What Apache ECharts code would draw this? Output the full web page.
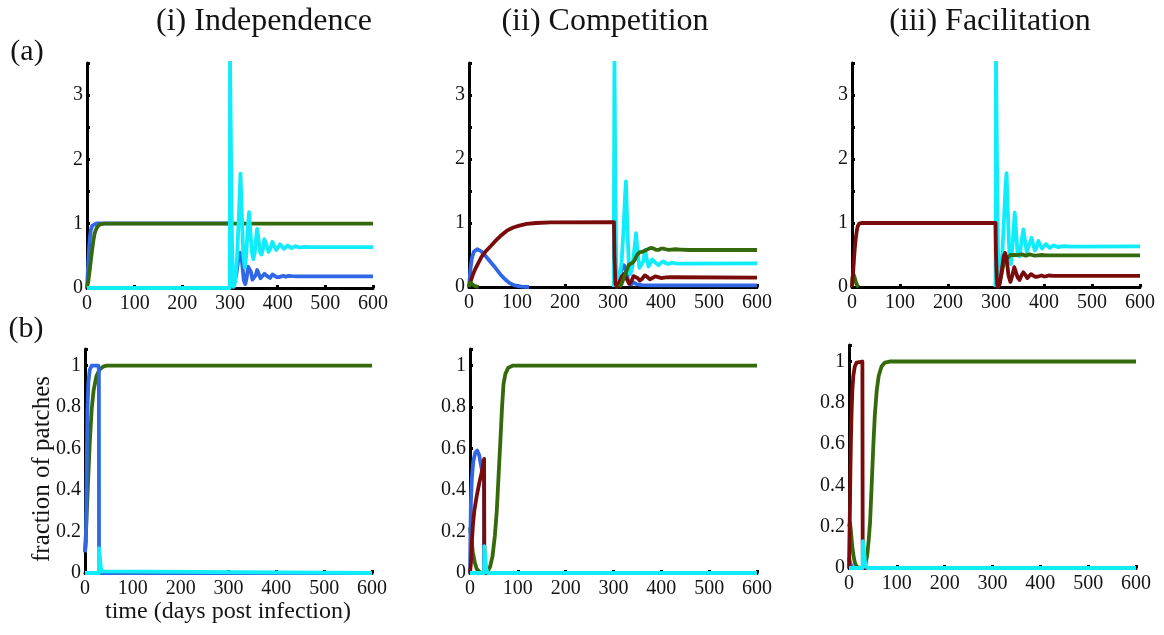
<!DOCTYPE html>
<html>
<head>
<meta charset="utf-8">
<script src="https://cdn.jsdelivr.net/npm/echarts@6/dist/echarts.min.js"></script>
<style>
html,body{margin:0;padding:0;background:#fff;}
#c{width:1164px;height:635px;}
</style>
</head>
<body>
<div id="c"></div>
<script>
// ---------- labels ----------
const colTitles = ['(i) Independence', '(ii) Competition', '(iii) Facilitation'];
const rowLabels = ['(a)', '(b)'];
const xName = 'time (days post infection)';
const yName = 'fraction of patches';

// ---------- data: [time, value] ----------
// Row (a), column (i) Independence
const a1Blue = [[0,0],[2,0.3],[4,0.58],[6,0.78],[8,0.9],[11,0.97],[14,1.0],[20,1.005],[300,1.005],[301,0.5],[303,0.15],[306,0.02],[309,0.03],[313,0.2],[317,0.42],[321,0.55],[325,0.42],[329,0.12],[332,0.06],[335,0.16],[338,0.33],[341,0.34],[344,0.25],[347,0.13],[350,0.11],[354,0.2],[357,0.28],[360,0.25],[364,0.15],[368,0.14],[372,0.22],[375,0.24],[379,0.18],[384,0.155],[389,0.21],[393,0.21],[398,0.17],[403,0.17],[407,0.2],[412,0.19],[417,0.175],[423,0.19],[430,0.185],[440,0.18],[600,0.18]];
const a1Green = [[0,0],[3,0.12],[6,0.3],[10,0.55],[13,0.72],[16,0.85],[20,0.93],[25,0.98],[30,0.995],[36,1.0],[600,1.0]];
const a1Cyan = [[0,0],[299.5,0],[300,3.6],[302,2.2],[304,0.8],[306,0.1],[308,0.02],[311,0.1],[315,0.5],[319,1.2],[322,1.78],[325,1.1],[328,0.5],[331,0.32],[334,0.5],[337,0.9],[340,1.18],[343,0.85],[346,0.55],[349,0.45],[352,0.55],[355,0.8],[357,0.92],[360,0.75],[363,0.56],[366,0.52],[369,0.6],[372,0.76],[374,0.78],[377,0.66],[381,0.56],[385,0.62],[389,0.72],[393,0.65],[397,0.59],[401,0.62],[405,0.68],[409,0.645],[413,0.61],[417,0.625],[421,0.66],[425,0.64],[429,0.62],[433,0.63],[437,0.65],[442,0.64],[447,0.63],[455,0.64],[465,0.635],[600,0.635]];

// Row (a), column (ii) Competition
const a2Blue = [[0,0],[3,0.28],[6,0.45],[10,0.55],[17,0.59],[25,0.56],[35,0.48],[44,0.4],[55,0.3],[65,0.2],[75,0.12],[85,0.06],[95,0.025],[110,0.005],[125,0],[130,null],[304,null],[305,0],[312,0.1],[318,0.28],[323,0.34],[328,0.22],[333,0.06],[338,0.04],[343,0.07],[350,0.04],[360,0.03],[380,0.025],[600,0.025]];
const a2Red = [[0,0],[4,0.1],[8,0.19],[13,0.28],[19,0.37],[26,0.47],[34,0.55],[44,0.63],[55,0.72],[66,0.8],[79,0.88],[92,0.93],[105,0.96],[120,0.985],[140,1.0],[170,1.01],[302,1.015],[303,0.5],[305,0.05],[308,0],[312,0.05],[318,0.16],[324,0.21],[329,0.12],[334,0.05],[339,0.1],[343,0.17],[347,0.19],[351,0.14],[356,0.1],[361,0.13],[366,0.18],[371,0.16],[377,0.12],[382,0.14],[388,0.165],[394,0.155],[400,0.14],[410,0.15],[420,0.152],[600,0.148]];
const a2Cyan = [[301.5,0],[303,3.6],[305,1.5],[307,0.3],[309,0.05],[313,0.1],[318,0.4],[322,0.9],[325,1.4],[327,1.65],[330,0.9],[333,0.35],[336,0.2],[340,0.3],[344,0.55],[348,0.84],[351,0.55],[355,0.3],[359,0.3],[363,0.4],[367,0.58],[370,0.45],[374,0.32],[378,0.33],[382,0.43],[386,0.45],[390,0.37],[395,0.34],[400,0.38],[405,0.4],[410,0.37],[416,0.36],[422,0.38],[430,0.37],[440,0.365],[600,0.37]];
const a2Green = [[0,0],[2,0.07],[5,0.06],[9,0.03],[14,0.01],[20,0],[25,null],[312,null],[313,0],[318,0.05],[323,0.15],[328,0.25],[333,0.35],[337,0.38],[341,0.38],[345,0.42],[350,0.5],[355,0.54],[360,0.55],[365,0.56],[370,0.58],[375,0.6],[380,0.61],[385,0.6],[390,0.58],[395,0.58],[400,0.6],[405,0.6],[410,0.59],[416,0.58],[422,0.585],[430,0.59],[440,0.585],[460,0.578],[600,0.578]];

// Row (a), column (iii) Facilitation
const a3Red = [[0,0],[2,0.2],[4,0.42],[6,0.62],[8,0.77],[10,0.88],[12,0.95],[15,0.99],[20,1.0],[299,1.0],[300,0.5],[302,0.05],[304,0],[308,0.05],[312,0.25],[316,0.48],[319,0.53],[322,0.45],[326,0.18],[330,0.08],[334,0.18],[338,0.31],[341,0.28],[345,0.15],[349,0.11],[353,0.18],[357,0.23],[361,0.19],[365,0.14],[369,0.15],[373,0.2],[377,0.19],[381,0.16],[386,0.16],[390,0.19],[395,0.18],[400,0.165],[405,0.17],[410,0.18],[420,0.175],[430,0.175],[600,0.175]];
const a3Green = [[0,0],[1,0.15],[3,0.2],[5,0.16],[8,0.08],[11,0.02],[14,0],[16,null],[302,null],[303,0],[306,0.02],[310,0.15],[314,0.3],[318,0.4],[322,0.44],[326,0.46],[330,0.5],[334,0.52],[338,0.5],[342,0.49],[346,0.5],[350,0.52],[354,0.51],[358,0.49],[362,0.49],[366,0.5],[370,0.51],[375,0.5],[380,0.49],[388,0.495],[395,0.5],[405,0.495],[600,0.495]];
const a3Cyan = [[299,0],[300,3.6],[302,2.0],[304,0.6],[306,0.2],[309,0.15],[313,0.5],[317,1.1],[320,1.6],[322,1.78],[325,1.1],[328,0.5],[331,0.36],[335,0.7],[339,1.16],[342,0.85],[345,0.52],[349,0.48],[353,0.7],[357,0.9],[360,0.75],[364,0.55],[368,0.56],[372,0.72],[374,0.77],[377,0.68],[381,0.57],[385,0.62],[388,0.72],[392,0.66],[396,0.6],[400,0.62],[404,0.67],[408,0.645],[412,0.61],[416,0.625],[420,0.65],[425,0.635],[430,0.62],[436,0.635],[445,0.64],[455,0.63],[600,0.635]];

// Row (b), column (i)
const b1Blue = [[0,0.1],[2,0.15],[3,0.35],[4,0.6],[5,0.78],[7,0.92],[10,0.98],[14,1.0],[28,1.0],[29,0.98],[29.3,0.12],[30,0],[600,0]];
const b1Green = [[0,0.1],[3,0.25],[5,0.36],[7,0.47],[10,0.63],[14,0.79],[18,0.88],[24,0.95],[30,0.98],[38,0.995],[45,1.0],[600,1.0]];
const b1Cyan = [[0,0],[29,0],[29.3,0.12],[31,0.08],[33,0.03],[35,0.008],[38,0],[600,0]];

// Row (b), column (ii)
const b2Green = [[0,0.22],[3,0.16],[6,0.1],[10,0.05],[14,0.02],[20,0.005],[28,0],[36,0.005],[42,0.03],[47,0.08],[52,0.18],[56,0.3],[60,0.48],[64,0.66],[67,0.8],[70,0.91],[74,0.96],[80,0.99],[90,1.0],[600,1.0]];
const b2Blue = [[0,0],[1,0.2],[2,0.35],[4,0.46],[7,0.54],[11,0.58],[15,0.59],[19,0.57],[23,0.52],[27,0.47],[29.5,0.44],[29.8,0],[600,0]];
const b2Red = [[0,0],[2,0.05],[4,0.15],[6,0.23],[9,0.3],[14,0.37],[19,0.43],[24,0.48],[28,0.53],[29.5,0.55],[29.8,0.14],[31,0],[600,0]];
const b2Cyan = [[0,0],[29.8,0],[30,0.13],[32,0.07],[34,0.02],[37,0],[600,0]];

// Row (b), column (iii)
const b3Blue = [[0,0.05],[2,0.03],[5,0.01],[8,0],[600,0]];
const b3Green = [[0,0.2],[2,0.22],[4,0.18],[7,0.1],[10,0.05],[13,0.02],[17,0.005],[25,0],[30,0.003],[34,0.015],[38,0.06],[41,0.13],[44,0.22],[47,0.38],[51,0.6],[54,0.74],[58,0.86],[62,0.93],[68,0.976],[75,0.995],[85,1.0],[600,1.0]];
const b3Red = [[0,0],[1,0.15],[2,0.3],[3,0.48],[4,0.62],[5.5,0.76],[7,0.86],[9,0.93],[12,0.975],[16,0.995],[20,1.0],[28,1.0],[28.6,0.13],[29,0],[600,0]];
const b3Cyan = [[0,0],[28.6,0],[29,0.13],[31,0.09],[33,0.04],[35,0.01],[38,0],[600,0]];

// ---------- styling ----------
const C = {cyan:'#10ecfa', blue:'#2f67e6', green:'#356a0c', red:'#7a0b0b'};
const FONT = '"Liberation Serif","Times New Roman",serif';
const TXT = '#141414';

const grids = [
  {left:87,  top:63,  width:286, height:225},
  {left:469, top:63,  width:288, height:224},
  {left:852, top:63,  width:288, height:224},
  {left:85,  top:349, width:287, height:224},
  {left:470, top:349, width:287, height:224},
  {left:849, top:345, width:287, height:223}
];

const panels = [
  [['blue',a1Blue],['green',a1Green],['cyan',a1Cyan]],
  [['blue',a2Blue],['cyan',a2Cyan],['red',a2Red],['green',a2Green]],
  [['cyan',a3Cyan],['green',a3Green],['red',a3Red]],
  [['green',b1Green],['blue',b1Blue],['cyan',b1Cyan]],
  [['green',b2Green],['blue',b2Blue],['red',b2Red],['cyan',b2Cyan]],
  [['blue',b3Blue],['green',b3Green],['red',b3Red],['cyan',b3Cyan]]
];

const axisLine = {show:true, onZero:false, lineStyle:{color:'#000', width:3}};
const axisTick = {show:true, inside:true, length:3, lineStyle:{color:'#000', width:3}};

const xAxes = grids.map((g,i)=>({
  type:'value', gridIndex:i, min:0, max:600, interval:100,
  axisLine, axisTick, splitLine:{show:false},
  axisLabel:{color:TXT, fontFamily:FONT, fontSize:20, margin:6}
}));
const yAxes = grids.map((g,i)=> i<3 ? ({
  type:'value', gridIndex:i, min:0, max:3.5, interval:0.5,
  axisLine, axisTick, splitLine:{show:false},
  axisLabel:{color:TXT, fontFamily:FONT, fontSize:20, margin:4,
    formatter:v=> Number.isInteger(v) ? String(v) : ''}
}) : ({
  type:'value', gridIndex:i, min:0, max:1.08, interval:0.2,
  axisLine, axisTick, splitLine:{show:false},
  axisLabel:{color:TXT, fontFamily:FONT, fontSize:20, margin:4,
    formatter:v=> v>1.01 ? '' : String(Math.round(v*10)/10)}
}));

const series = [];
panels.forEach((list,i)=>{
  list.forEach(([col,data])=>{
    series.push({
      type:'line', xAxisIndex:i, yAxisIndex:i, data:data,
      showSymbol:false, symbol:'none', connectNulls:false, clip:true,
      lineStyle:{color:C[col], width:3.8, join:'round'},
      itemStyle:{color:C[col]}, animation:false
    });
  });
});

const textEl = (t,x,y,size,rot)=>({
  type:'text', x:x, y:y, rotation:rot||0, silent:true,
  style:{text:t, font:size+'px '+FONT, fill:TXT, align:'center', verticalAlign:'middle',
         textAlign:'center', textVerticalAlign:'middle'}
});

const graphics = [
  textEl(colTitles[0], 264, 22, 32),
  textEl(colTitles[1], 605, 22, 32),
  textEl(colTitles[2], 990, 22, 32),
  textEl(rowLabels[0], 27, 52, 30),
  textEl(rowLabels[1], 26, 329, 30),
  textEl(xName, 228, 612, 24),
  textEl(yName, 42, 469, 25, Math.PI/2)
];

const chart = echarts.init(document.getElementById('c'), null, {renderer:'canvas'});
chart.setOption({
  animation:false,
  backgroundColor:'#fff',
  grid:grids,
  xAxis:xAxes,
  yAxis:yAxes,
  series:series,
  graphic:graphics
});
</script>
</body>
</html>
